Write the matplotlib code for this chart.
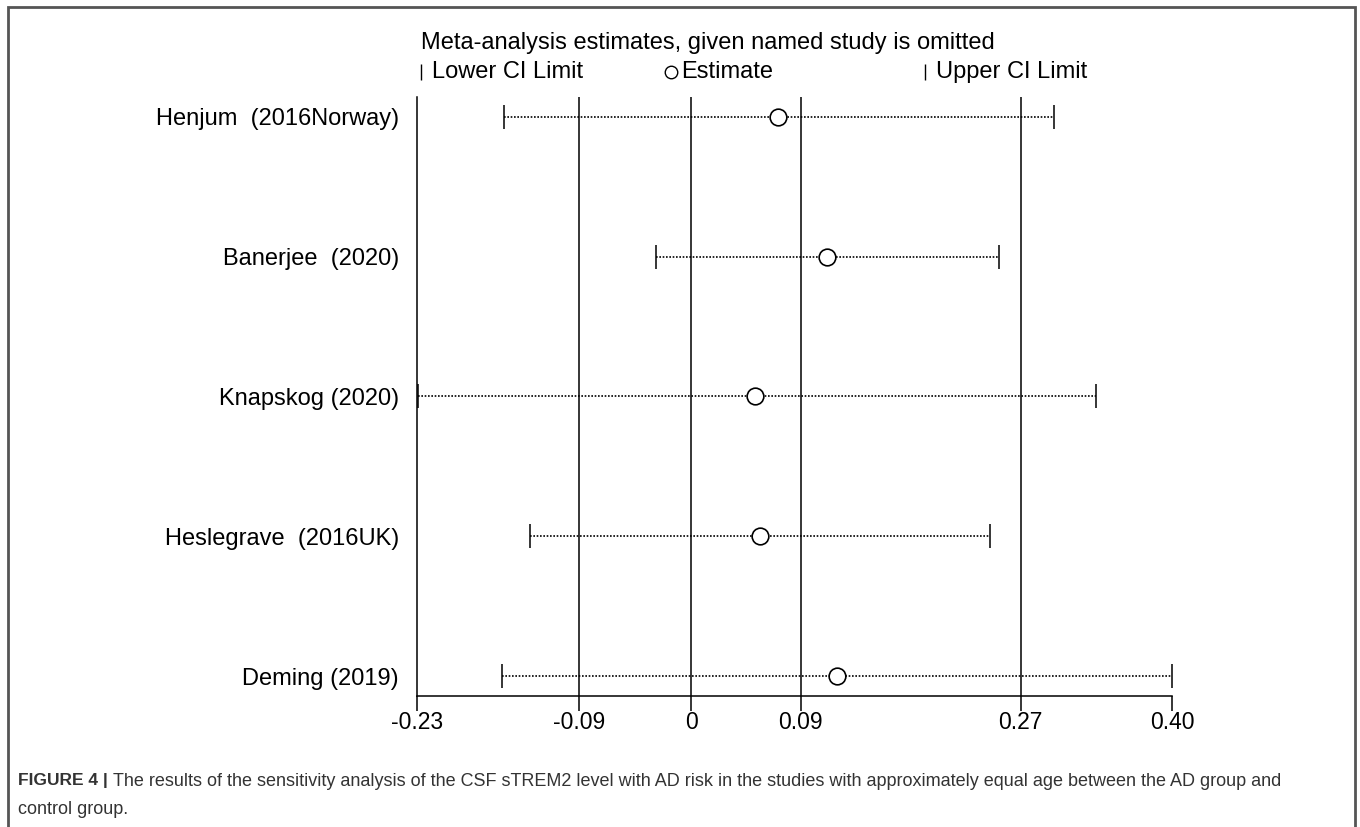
import matplotlib
matplotlib.use("Agg")
import matplotlib.pyplot as plt
from matplotlib.lines import Line2D
from matplotlib.patches import Rectangle

plt.rcParams["font.family"] = ["Liberation Sans", "DejaVu Sans"]

# Sensitivity analysis: estimate when each named study is omitted
studies = ["Henjum  (2016Norway)", "Banerjee  (2020)", "Knapskog (2020)",
           "Heslegrave  (2016UK)", "Deming (2019)"]
estimate = [0.072, 0.113, 0.053, 0.057, 0.121]
lower = [-0.156, -0.029, -0.227, -0.134, -0.157]
upper = [0.302, 0.256, 0.337, 0.249, 0.400]

# x ticks: min lower, pooled lower, 0, pooled estimate, pooled upper, max upper
tick_vals = [-0.228, -0.093, 0.0, 0.091, 0.274, 0.400]
ref_lines = [-0.093, 0.0, 0.091, 0.274]

W, H = 1360, 827
fig = plt.figure(figsize=(W / 100, H / 100), dpi=100)

def fx(px):
    return px / W

def fy(py):
    return 1 - py / H

ax = fig.add_axes([fx(417), fy(696), fx(1172) - fx(417), fy(97) - fy(696)])

ypos = list(range(len(studies)))
for v in ref_lines:
    ax.axvline(v, color="black", lw=1.1, zorder=1)

for y, lo, est, hi in zip(ypos, lower, estimate, upper):
    ax.plot([lo, hi], [y, y], color="black", lw=1.2, ls=(0, (1, 1.0)), zorder=2)
    ax.plot([lo, hi], [y, y], ls="none", marker="|", ms=17, mew=1.1,
            color="black", zorder=3)
ax.plot(estimate, ypos, ls="none", marker="o", ms=12, mfc="white",
        mec="black", mew=1.2, zorder=4)

ax.set_xlim(tick_vals[0], tick_vals[-1])
ax.set_ylim(len(studies) - 1 + 0.143, -0.143)
ax.set_xticks(tick_vals)
ax.set_xticklabels(["0" if v == 0 else f"{v:.2f}" for v in tick_vals], fontsize=16.5)
ax.set_yticks(ypos)
ax.set_yticklabels(studies, fontsize=17)
ax.tick_params(axis="y", length=0, pad=13)
ax.tick_params(axis="x", length=11, width=1.1, pad=0, direction="out")
for s in ["top", "right"]:
    ax.spines[s].set_visible(False)
for s in ["left", "bottom"]:
    ax.spines[s].set_linewidth(1.1)

# title and legend row
fs = 17
fig.text(fx(421), fy(43), "Meta-analysis estimates, given named study is omitted",
         fontsize=fs, va="center", ha="left")
leg_y = fy(72)
fig.add_artist(Line2D([fx(421)], [leg_y], marker="|", ms=11, mew=1.0,
                      color="black", transform=fig.transFigure))
fig.text(fx(432), leg_y, "Lower CI Limit", fontsize=fs, va="center", ha="left")
fig.add_artist(Line2D([fx(671)], [leg_y], marker="o", ms=9, mfc="white",
                      mec="black", mew=1.0, transform=fig.transFigure))
fig.text(fx(681), leg_y, "Estimate", fontsize=fs, va="center", ha="left")
fig.add_artist(Line2D([fx(925)], [leg_y], marker="|", ms=11, mew=1.0,
                      color="black", transform=fig.transFigure))
fig.text(fx(936), leg_y, "Upper CI Limit", fontsize=fs, va="center", ha="left")

# outer frame (bottom edge runs off the page)
fig.add_artist(Rectangle((fx(8), -0.05), fx(1355) - fx(8), fy(7) + 0.05,
                         fill=False, edgecolor="#555555", lw=2,
                         transform=fig.transFigure))

# caption
cap_col = "#333333"
fig.text(fx(18), fy(781), "FIGURE 4 |", fontsize=12.5, fontweight="bold",
         color=cap_col, va="center", ha="left")
fig.text(fx(113), fy(781),
         "The results of the sensitivity analysis of the CSF sTREM2 level with AD risk "
         "in the studies with approximately equal age between the AD group and",
         fontsize=13, color=cap_col, va="center", ha="left")
fig.text(fx(18), fy(809), "control group.", fontsize=13, color=cap_col,
         va="center", ha="left")

fig.savefig("out.png", dpi=100)
